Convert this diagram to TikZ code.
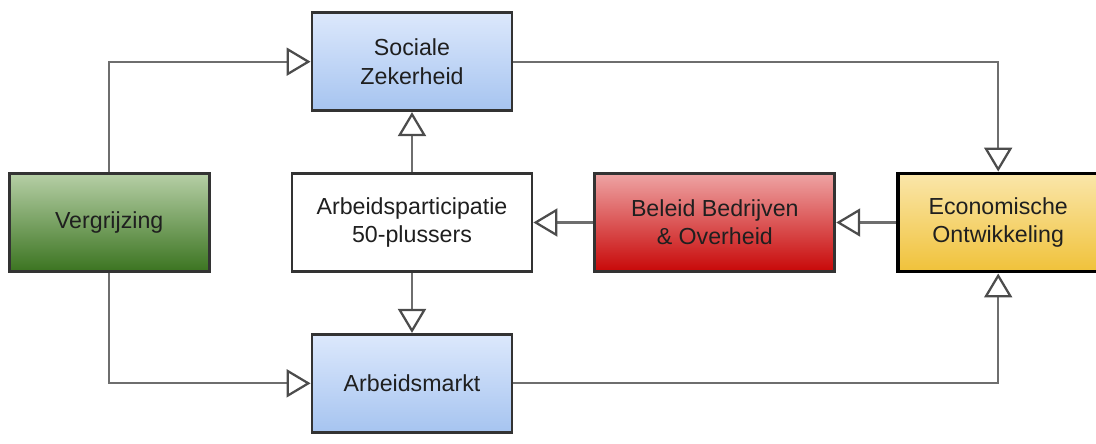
\documentclass[tikz,border=0pt]{standalone}
\usepackage{fontspec}
\setmainfont{Liberation Sans}
\usepackage{xcolor}
\usetikzlibrary{shapes,arrows.meta,positioning,calc}

\definecolor{lineGray}{HTML}{6E6E6E}
\definecolor{edgeGray}{HTML}{333333}
\definecolor{blueTop}{HTML}{DCE8FC}
\definecolor{blueBot}{HTML}{A6C4F0}
\definecolor{greenTop}{HTML}{B6CFA6}
\definecolor{greenBot}{HTML}{3B7420}
\definecolor{redTop}{HTML}{EEA4A4}
\definecolor{redBot}{HTML}{C80808}
\definecolor{yellowTop}{HTML}{FAE6AA}
\definecolor{yellowBot}{HTML}{F0C23A}

\begin{document}
\begin{tikzpicture}[
    node distance=1.5cm,
    box/.style={rectangle, draw=edgeGray, line width=2pt, minimum width=5cm, minimum height=2.45cm, align=center, font=\fontsize{16.5}{20}\selectfont, text=black!88},
    widebox/.style={box, minimum width=6cm},
    arrow/.style={-{Triangle[open, length=0.6cm, width=0.7cm, fill=white, color=black!70]}, line width=1.6pt, draw=lineGray}
]
\useasboundingbox (0,0) rectangle (27.4,-11.075);

% Middle row
\node[widebox, fill=white] (partic) at (10.3,-5.5625) {Arbeidsparticipatie\\50-plussers};
\node[widebox, right=of partic, top color=redTop, bottom color=redBot] (beleid) {Beleid Bedrijven\\\& Overheid};
\node[box, right=of beleid, draw=black, line width=2.8pt, top color=yellowTop, bottom color=yellowBot] (econ) {Economische\\Ontwikkeling};
\node[box, left=2cm of partic, top color=greenTop, bottom color=greenBot] (vergr) {Vergrijzing};

% Top and bottom
\node[box, above=of partic, top color=blueTop, bottom color=blueBot] (sociaal) {Sociale\\Zekerheid};
\node[box, below=of partic, top color=blueTop, bottom color=blueBot] (markt) {Arbeidsmarkt};

% Arrows
\draw[arrow] (vergr.north) |- (sociaal.west);
\draw[arrow] (vergr.south) |- (markt.west);
\draw[arrow] (partic) -- (sociaal);
\draw[arrow] (partic) -- (markt);
\draw[arrow] (sociaal.east) -| (econ.north);
\draw[arrow] (markt.east) -| (econ.south);
\draw[arrow] (econ) -- (beleid);
\draw[arrow] (beleid) -- (partic);

\end{tikzpicture}
\end{document}
